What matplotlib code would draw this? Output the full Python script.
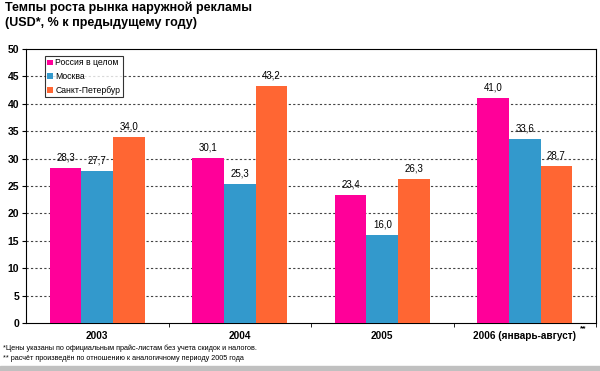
import matplotlib as mpl
import matplotlib.pyplot as plt
import numpy as np
from matplotlib.patches import Rectangle

categories = ["2003", "2004", "2005", "2006 (январь-август)"]
series_names = ["Россия в целом", "Москва", "Санкт-Петербур"]
russia = [28.3, 30.1, 23.4, 41.0]
moscow = [27.7, 25.3, 16.0, 33.6]
spb = [34.0, 43.2, 26.3, 28.7]
colors = ["#FF0099", "#3399CC", "#FF6633"]

title = "Темпы роста рынка наружной рекламы\n(USD*, % к предыдущему году)"
notes = [
    "*Цены указаны по официальным прайс-листам без учета скидок и налогов.",
    "** расчёт произведён по отношению к аналогичному периоду 2005 года",
]

mpl.rcParams.update({
    "font.family": ["Liberation Sans", "DejaVu Sans"],
    "font.size": 7,
})

fig = plt.figure(figsize=(6.0, 3.71), dpi=100)
ax = fig.add_axes([26 / 600, 48 / 371, 570 / 600, 274 / 371])

x = np.arange(len(categories))
w = 0.222
for i, (vals, name, c) in enumerate(zip([russia, moscow, spb], series_names, colors)):
    bars = ax.bar(x + (i - 1) * w, vals, width=w, color=c, label=name, zorder=3)
    for b, v in zip(bars, vals):
        ax.annotate(f"{v:.1f}".replace(".", ","), (b.get_x() + b.get_width() / 2, v),
                    xytext=(0, 4), textcoords="offset points",
                    ha="center", va="bottom", fontsize=7, zorder=4)

ax.set_xlim(-0.5, 3.5)
ax.set_ylim(0, 50)
ax.set_yticks(np.arange(0, 51, 5))
ax.set_yticklabels([str(v) for v in range(0, 51, 5)], fontweight="bold", fontsize=7.5)
for y in range(5, 50, 5):
    ax.axhline(y, color="#444444", lw=0.8, ls=(0, (2, 2)), zorder=1)

ax.set_xticks(x)
ax.set_xticklabels(categories, fontweight="bold", fontsize=7.2)
ax.tick_params(axis="x", length=0, pad=6)
ax.set_xticks([0.5, 1.5, 2.5, 3.5], minor=True)
ax.tick_params(axis="x", which="minor", length=3, direction="out")
ax.tick_params(axis="y", length=3, direction="out", pad=2)
for s in ax.spines.values():
    s.set_linewidth(0.8)
    s.set_color("black")

ax.text(3.39, -0.4, "**", ha="left", va="top", fontsize=6, fontweight="bold",
        transform=ax.transData, clip_on=False)

leg = ax.legend(loc="upper left", bbox_to_anchor=(0.033, 0.975), fontsize=6.2,
                frameon=True, fancybox=False, edgecolor="black", handlelength=0.6,
                handleheight=0.6, handletextpad=0.3, borderpad=0.3, labelspacing=0.55,
                borderaxespad=0)
leg.get_frame().set_linewidth(0.8)

fig.text(5 / 600, 1 - 2 / 371, title, ha="left", va="top", fontsize=9,
         fontweight="bold", linespacing=1.3)
fig.text(3 / 600, 1 - 348 / 371, notes[0], ha="left", va="center", fontsize=5.2)
fig.text(3 / 600, 1 - 359 / 371, notes[1], ha="left", va="center", fontsize=5.2)
fig.patches.append(Rectangle((0, 0), 1, 5 / 371, transform=fig.transFigure,
                             color="#C0C0C0", zorder=0))

fig.savefig("out.png", dpi=100)
